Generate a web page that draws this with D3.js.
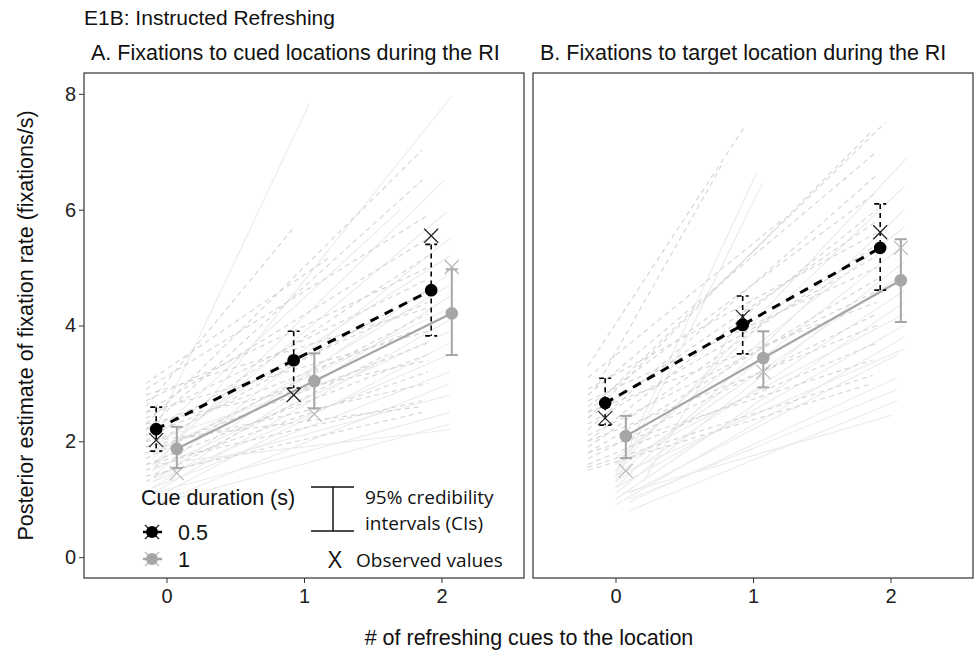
<!DOCTYPE html>
<html>
<head>
<meta charset="utf-8">
<script src="https://cdn.jsdelivr.net/npm/d3@7"></script>
<style>
  body { margin: 0; background: #fff; }
  text { font-family: "Liberation Sans", Arial, sans-serif; }
</style>
</head>
<body>
<div id="chart"></div>
<script>
// x categories (# refreshing cues) and y ticks
var cues = [0, 1, 2];
var yTicks = [0, 2, 4, 6, 8];
var durations = ["0.5", "1"];

// Panel A: cued locations
var cuedEst05 = [2.21, 3.40, 4.61];
var cuedLo05 = [1.83, 2.92, 3.82];
var cuedHi05 = [2.59, 3.90, 5.40];
var cuedObs05 = [2.02, 2.80, 5.55];
var cuedEst1 = [1.87, 3.04, 4.21];
var cuedLo1 = [1.54, 2.57, 3.49];
var cuedHi1 = [2.25, 3.52, 4.97];
var cuedObs1 = [1.45, 2.47, 5.01];

// Panel B: target location
var targetEst05 = [2.66, 4.01, 5.34];
var targetLo05 = [2.28, 3.51, 4.61];
var targetHi05 = [3.09, 4.51, 6.10];
var targetObs05 = [2.40, 4.15, 5.61];
var targetEst1 = [2.09, 3.44, 4.78];
var targetLo1 = [1.71, 2.93, 4.06];
var targetHi1 = [2.44, 3.90, 5.49];
var targetObs1 = [1.49, 3.20, 5.34];

// individual participant lines [x0, y0, x1, y1]
var cuedSubj05 = [
  [-0.15, 2.6, 0.93, 5.70], [-0.15, 2.3, 1.86, 7.03], [-0.15, 2.2, 1.86, 6.51],
  [-0.15, 2.9, 1.90, 5.9], [-0.15, 2.5, 1.90, 5.5], [-0.15, 2.0, 1.90, 5.2],
  [-0.15, 2.7, 1.90, 5.0], [-0.15, 2.4, 1.90, 4.8], [-0.15, 1.9, 1.90, 4.6],
  [-0.15, 2.2, 1.90, 4.4], [-0.15, 2.8, 1.90, 4.3], [-0.15, 1.7, 1.90, 4.2],
  [-0.15, 2.1, 1.90, 4.0], [-0.15, 2.5, 1.90, 3.9], [-0.15, 1.8, 1.90, 3.7],
  [-0.15, 1.6, 1.90, 3.5], [-0.15, 2.3, 1.90, 3.4], [-0.15, 1.5, 1.90, 3.2],
  [-0.15, 1.9, 1.90, 3.0], [-0.15, 1.6, 1.86, 2.7], [-0.15, 1.4, 1.86, 2.5],
  [-0.15, 2.0, 1.86, 2.6], [-0.15, 1.3, 1.60, 3.5], [-0.15, 3.0, 1.20, 5.2]
];
var cuedSubj1 = [
  [-0.1, 2.1, 1.04, 7.84], [-0.1, 1.5, 2.07, 7.95], [-0.1, 1.6, 2.02, 6.51],
  [-0.1, 1.7, 2.04, 5.96], [-0.1, 1.4, 2.06, 5.5], [-0.1, 1.9, 2.06, 5.2],
  [-0.1, 1.3, 2.06, 4.9], [-0.1, 1.6, 2.06, 4.7], [-0.1, 1.2, 2.06, 4.5],
  [-0.1, 1.8, 2.06, 4.3], [-0.1, 1.1, 2.06, 4.1], [-0.1, 1.5, 2.06, 3.9],
  [-0.1, 1.0, 2.06, 3.7], [-0.1, 1.3, 2.06, 3.5], [-0.1, 1.2, 2.06, 3.2],
  [-0.1, 0.9, 2.06, 3.0], [-0.1, 1.4, 2.06, 2.8], [-0.1, 1.1, 2.06, 2.5],
  [-0.1, 0.9, 2.06, 2.3], [-0.1, 1.6, 2.06, 2.2], [0.0, 2.3, 1.7, 6.0],
  [-0.1, 2.0, 1.5, 3.3]
];
var targetSubj05 = [
  [-0.2, 3.3, 0.93, 7.4], [-0.15, 2.9, 0.78, 6.8], [-0.2, 2.5, 1.96, 7.5],
  [-0.2, 2.4, 1.87, 7.37], [-0.2, 2.8, 1.90, 7.0], [-0.2, 2.2, 1.90, 6.6],
  [-0.2, 2.6, 1.90, 6.3], [-0.2, 2.0, 1.90, 6.0], [-0.2, 2.4, 1.90, 5.8],
  [-0.2, 2.9, 1.90, 5.6], [-0.2, 1.9, 1.90, 5.4], [-0.2, 2.3, 1.90, 5.2],
  [-0.2, 2.7, 1.90, 5.0], [-0.2, 1.8, 1.90, 4.8], [-0.2, 2.1, 1.90, 4.6],
  [-0.2, 2.5, 1.90, 4.4], [-0.2, 1.7, 1.90, 4.2], [-0.2, 2.0, 1.90, 4.0],
  [-0.2, 1.6, 1.90, 3.7], [-0.2, 1.8, 1.87, 3.4], [-0.2, 1.55, 1.87, 3.14],
  [-0.2, 1.5, 1.87, 3.0], [-0.2, 3.1, 1.2, 5.8]
];
var targetSubj1 = [
  [0.0, 1.4, 1.03, 6.65], [0.0, 1.3, 1.07, 6.46], [0.0, 1.5, 2.12, 6.9],
  [0.0, 1.6, 2.10, 6.4], [0.0, 1.2, 2.10, 6.0], [0.0, 1.7, 2.10, 5.7],
  [0.0, 1.4, 2.10, 5.4], [0.0, 1.1, 2.10, 5.1], [0.0, 1.5, 2.10, 4.9],
  [0.0, 1.3, 2.10, 4.6], [0.0, 1.0, 2.10, 4.4], [0.0, 1.6, 2.10, 4.2],
  [0.0, 1.2, 2.10, 4.0], [0.0, 0.9, 2.10, 3.8], [0.0, 1.4, 2.10, 3.6],
  [0.1, 1.1, 2.05, 3.5], [0.1, 0.95, 2.05, 3.1], [0.1, 1.0, 2.05, 2.9],
  [0.05, 1.1, 2.01, 2.45], [0.1, 0.8, 2.05, 2.7], [0.2, 1.3, 1.0, 4.5]
];

var W = 975, H = 655;
var plotTop = 73, plotBottom = 578;
var dodge = 0.075;
var calib = "'Open Sans', 'Noto Sans', sans-serif";

var svg = d3.select("#chart").append("svg")
  .attr("width", W)
  .attr("height", H);

var y = d3.scaleLinear().domain([-0.36, 8.36]).range([plotBottom, plotTop]);

svg.append("text")
  .attr("x", 84).attr("y", 25)
  .attr("font-size", 21).attr("fill", "#111")
  .text("E1B: Instructed Refreshing");

function drawX(g, cx, cy, color, w) {
  g.append("line").attr("x1", cx - 7).attr("y1", cy - 7).attr("x2", cx + 7).attr("y2", cy + 7)
    .attr("stroke", color).attr("stroke-width", w);
  g.append("line").attr("x1", cx - 7).attr("y1", cy + 7).attr("x2", cx + 7).attr("y2", cy - 7)
    .attr("stroke", color).attr("stroke-width", w);
}

function drawPanel(left, right, title, subj05, subj1, s05, s1, showY) {
  var x = d3.scaleLinear().domain([-0.6, 2.6]).range([left, right]);
  var g = svg.append("g");

  g.append("defs").append("clipPath").attr("id", "clip" + left)
    .append("rect").attr("x", left).attr("y", plotTop).attr("width", right - left).attr("height", plotBottom - plotTop);
  var plot = g.append("g").attr("clip-path", "url(#clip" + left + ")");

  // participant lines
  plot.selectAll(".s1").data(subj1).enter().append("line")
    .attr("x1", d => x(d[0])).attr("y1", d => y(d[1]))
    .attr("x2", d => x(d[2])).attr("y2", d => y(d[3]))
    .attr("stroke", "#ebebeb").attr("stroke-width", 1.1);
  plot.selectAll(".s05").data(subj05).enter().append("line")
    .attr("x1", d => x(d[0])).attr("y1", d => y(d[1]))
    .attr("x2", d => x(d[2])).attr("y2", d => y(d[3]))
    .attr("stroke", "#d4d4d4").attr("stroke-width", 1.1)
    .attr("stroke-dasharray", "5,4");

  var line = d3.line().x(d => d[0]).y(d => d[1]);

  // series: [est, lo, hi, obs]
  var series = [
    { v: s1, color: "#a6a6a6", xcol: "#b8b8b8", off: dodge, dash: null },
    { v: s05, color: "#000", xcol: "#222", off: -dodge, dash: "9,7" }
  ];
  series.forEach(function(s) {
    var est = s.v[0], lo = s.v[1], hi = s.v[2], obs = s.v[3];
    var pts = cues.map((c, i) => [x(c + s.off), y(est[i])]);
    plot.append("path").attr("d", line(pts)).attr("fill", "none")
      .attr("stroke", s.color).attr("stroke-width", s.dash ? 3 : 2.2)
      .attr("stroke-dasharray", s.dash);
    cues.forEach(function(c, i) {
      var cx = x(c + s.off);
      var eg = plot.append("g").attr("stroke", s.color)
        .attr("stroke-width", s.dash ? 1.6 : 2)
        .attr("stroke-dasharray", s.dash ? "5,4" : null);
      eg.append("line").attr("x1", cx).attr("x2", cx).attr("y1", y(hi[i])).attr("y2", y(lo[i]));
      eg.append("line").attr("x1", cx - 6).attr("x2", cx + 6).attr("y1", y(hi[i])).attr("y2", y(hi[i]));
      eg.append("line").attr("x1", cx - 6).attr("x2", cx + 6).attr("y1", y(lo[i])).attr("y2", y(lo[i]));
      drawX(plot, cx, y(obs[i]), s.xcol, 1.2);
      plot.append("circle").attr("cx", cx).attr("cy", y(est[i])).attr("r", 6.3).attr("fill", s.color);
    });
  });

  // frame
  g.append("rect").attr("x", left).attr("y", plotTop).attr("width", right - left).attr("height", plotBottom - plotTop)
    .attr("fill", "none").attr("stroke", "#333").attr("stroke-width", 1.2);

  var xa = g.append("g").attr("transform", "translate(0," + plotBottom + ")")
    .call(d3.axisBottom(x).tickValues(cues).tickSize(5).tickFormat(d3.format("d")));
  xa.select(".domain").remove();
  xa.selectAll("line").attr("stroke", "#333");
  xa.selectAll("text").attr("font-size", 20).attr("fill", "#222").attr("dy", "0.85em")
    .style("font-family", "'Liberation Sans', Arial, sans-serif");

  if (showY) {
    var ya = g.append("g").attr("transform", "translate(" + left + ",0)")
      .call(d3.axisLeft(y).tickValues(yTicks).tickSize(5));
    ya.select(".domain").remove();
    ya.selectAll("line").attr("stroke", "#333");
    ya.selectAll("text").attr("font-size", 20).attr("fill", "#222")
      .style("font-family", "'Liberation Sans', Arial, sans-serif");
  }

  g.append("text").attr("x", left + 7).attr("y", 60)
    .attr("font-size", 21.5).attr("fill", "#111").text(title);
  return x;
}

drawPanel(84, 524, "A. Fixations to cued locations during the RI",
  cuedSubj05, cuedSubj1,
  [cuedEst05, cuedLo05, cuedHi05, cuedObs05], [cuedEst1, cuedLo1, cuedHi1, cuedObs1], true);
drawPanel(533, 973, "B. Fixations to target location during the RI",
  targetSubj05, targetSubj1,
  [targetEst05, targetLo05, targetHi05, targetObs05], [targetEst1, targetLo1, targetHi1, targetObs1], false);

// axis titles
svg.append("text")
  .attr("transform", "translate(33," + (plotTop + plotBottom) / 2 + ") rotate(-90)")
  .attr("text-anchor", "middle").attr("font-size", 21.5).attr("fill", "#111")
  .text("Posterior estimate of fixation rate (fixations/s)");
svg.append("text")
  .attr("x", 529).attr("y", 645).attr("text-anchor", "middle")
  .attr("font-size", 21.5).attr("fill", "#111")
  .text("# of refreshing cues to the location");

// legend
var lg = svg.append("g");
lg.append("text").attr("x", 141).attr("y", 505).attr("font-size", 21.5).attr("fill", "#111")
  .text("Cue duration (s)");
var keyColors = [["#000", "#222"], ["#a6a6a6", "#b8b8b8"]];
durations.forEach(function(d, i) {
  var ky = 532 + i * 27;
  lg.append("line").attr("x1", 143).attr("x2", 162).attr("y1", ky).attr("y2", ky)
    .attr("stroke", keyColors[i][0]).attr("stroke-width", 2.5);
  drawX(lg, 152, ky, keyColors[i][1], 1.2);
  lg.append("circle").attr("cx", 152).attr("cy", ky).attr("r", 6).attr("fill", keyColors[i][0]);
  lg.append("text").attr("x", 178).attr("y", ky + 8).attr("font-size", 21.5).attr("fill", "#111").text(d);
});
// CI key
lg.append("line").attr("x1", 311).attr("x2", 354).attr("y1", 487).attr("y2", 487).attr("stroke", "#111").attr("stroke-width", 1.5);
lg.append("line").attr("x1", 311).attr("x2", 354).attr("y1", 531).attr("y2", 531).attr("stroke", "#111").attr("stroke-width", 1.5);
lg.append("line").attr("x1", 333).attr("x2", 333).attr("y1", 487).attr("y2", 531).attr("stroke", "#111").attr("stroke-width", 1.5);
lg.append("text").attr("x", 365).attr("y", 504).attr("font-size", 19).attr("fill", "#111")
  .style("font-family", calib).text("95% credibility");
lg.append("text").attr("x", 365).attr("y", 530).attr("font-size", 19).attr("fill", "#111")
  .style("font-family", calib).text("intervals (CIs)");
lg.append("text").attr("x", 335).attr("y", 568).attr("text-anchor", "middle").attr("font-size", 24).attr("fill", "#111")
  .style("font-family", calib).text("X");
lg.append("text").attr("x", 356).attr("y", 567).attr("font-size", 19).attr("fill", "#111")
  .style("font-family", calib).text("Observed values");
</script>
</body>
</html>
